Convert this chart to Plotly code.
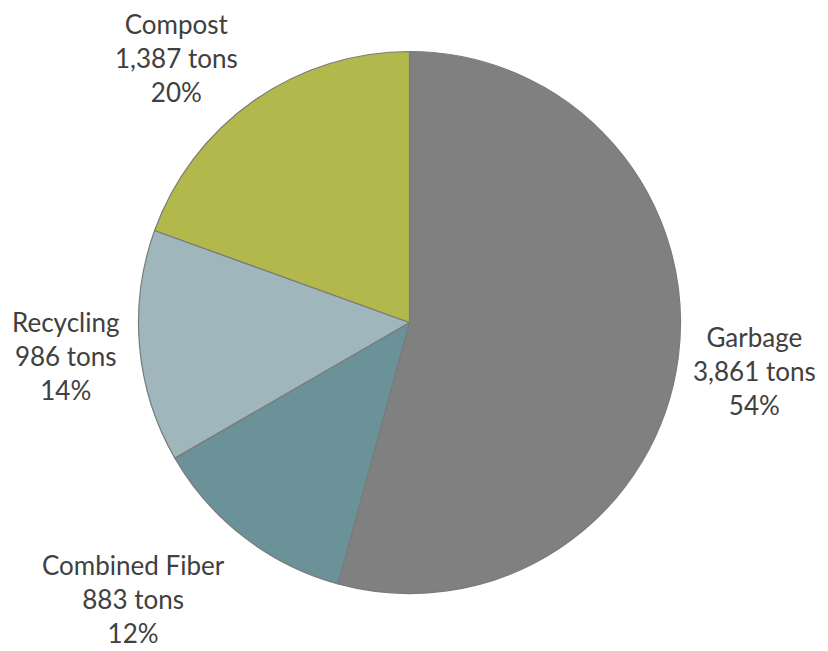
import math
import plotly.graph_objects as go

# Data
categories = ["Garbage", "Combined Fiber", "Recycling", "Compost"]
tons = [3861, 883, 986, 1387]
percent_labels = ["54%", "12%", "14%", "20%"]

# Styles
colors = ["#808080", "#6b9299", "#9fb6bc", "#b2b84b"]
label_radius = [1.285, 1.44, 1.275, 1.30]
label_angle_nudge = [0.4, 7.3, -0.5, -6.3]

W, H = 828, 651
cx, cy, R = 409.5, 322.5, 271.0

fig = go.Figure(go.Pie(
    labels=categories,
    values=tons,
    sort=False,
    direction="clockwise",
    rotation=0,
    textinfo="none",
    hoverinfo="label+value+percent",
    marker=dict(colors=colors, line=dict(color="#7a7a7a", width=1.2)),
    domain=dict(x=[(cx - R) / W, (cx + R) / W],
                y=[(H - cy - R) / H, (H - cy + R) / H]),
    showlegend=False,
))

total = sum(tons)
cum = 0
annotations = []
for i, (cat, v) in enumerate(zip(categories, tons)):
    mid = (cum + v / 2) / total * 360 + label_angle_nudge[i]
    cum += v
    a = math.radians(mid)
    px = cx + math.sin(a) * R * label_radius[i]
    py = cy - math.cos(a) * R * label_radius[i]
    annotations.append(dict(
        x=px / W, y=1 - py / H, xref="paper", yref="paper",
        xanchor="center", yanchor="middle", align="center",
        showarrow=False,
        text=f"{cat}<br>{v:,} tons<br>{percent_labels[i]}",
        font=dict(family="Lato, Open Sans, sans-serif", size=26, color="#404040"),
    ))

fig.update_layout(
    width=W, height=H,
    margin=dict(l=0, r=0, t=0, b=0),
    paper_bgcolor="white", plot_bgcolor="white",
    annotations=annotations,
)

fig.write_html("out.html")
